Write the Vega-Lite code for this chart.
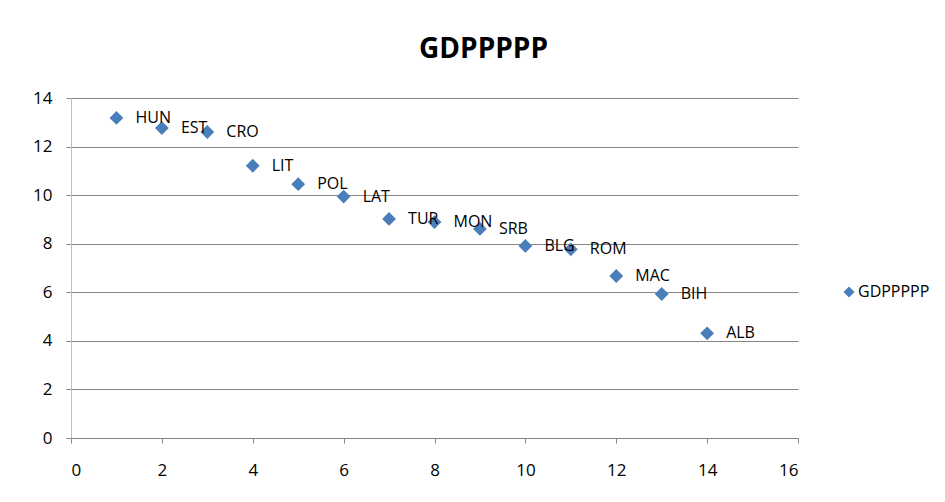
{
  "$schema": "https://vega.github.io/schema/vega-lite/v6.json",
  "width": 727,
  "height": 340,
  "autosize": "none",
  "padding": {"left": 71, "top": 98, "right": 147, "bottom": 64},
  "background": "white",
  "title": {
    "text": "GDPPPPP",
    "font": "Open Sans",
    "fontSize": 28,
    "fontWeight": "bold",
    "color": "#000000",
    "anchor": "middle",
    "frame": "group",
    "dx": 49,
    "baseline": "alphabetic",
    "offset": 3
  },
  "data": {
    "values": [
      {"x": 1, "y": 13.18, "country": "HUN", "series": "GDPPPPP"},
      {"x": 2, "y": 12.76, "country": "EST", "series": "GDPPPPP"},
      {"x": 3, "y": 12.6, "country": "CRO", "series": "GDPPPPP"},
      {"x": 4, "y": 11.21, "country": "LIT", "series": "GDPPPPP"},
      {"x": 5, "y": 10.45, "country": "POL", "series": "GDPPPPP"},
      {"x": 6, "y": 9.94, "country": "LAT", "series": "GDPPPPP"},
      {"x": 7, "y": 9.02, "country": "TUR", "series": "GDPPPPP"},
      {"x": 8, "y": 8.89, "country": "MON", "series": "GDPPPPP"},
      {"x": 9, "y": 8.61, "country": "SRB", "series": "GDPPPPP"},
      {"x": 10, "y": 7.91, "country": "BLG", "series": "GDPPPPP"},
      {"x": 11, "y": 7.77, "country": "ROM", "series": "GDPPPPP"},
      {"x": 12, "y": 6.67, "country": "MAC", "series": "GDPPPPP"},
      {"x": 13, "y": 5.93, "country": "BIH", "series": "GDPPPPP"},
      {"x": 14, "y": 4.31, "country": "ALB", "series": "GDPPPPP"}
    ]
  },
  "encoding": {
    "x": {
      "field": "x",
      "type": "quantitative",
      "scale": {"domain": [0, 16], "nice": false, "zero": true},
      "axis": {
        "title": null,
        "values": [0, 2, 4, 6, 8, 10, 12, 14, 16],
        "grid": false,
        "domainColor": "#868686",
        "tickColor": "#868686",
        "tickSize": 5,
        "labelPadding": 19,
        "labelFont": "Open Sans",
        "labelFontSize": 17,
        "labelColor": "#000000"
      }
    },
    "y": {
      "field": "y",
      "type": "quantitative",
      "scale": {"domain": [0, 14], "nice": false},
      "axis": {
        "title": null,
        "values": [0, 2, 4, 6, 8, 10, 12, 14],
        "grid": true,
        "gridColor": "#868686",
        "gridWidth": 1,
        "domainColor": "#BFBFBF",
        "tickColor": "#868686",
        "tickSize": 5,
        "labelPadding": 14,
        "labelFont": "Open Sans",
        "labelFontSize": 17,
        "labelColor": "#000000"
      }
    }
  },
  "layer": [
    {
      "mark": {"type": "point", "shape": "diamond", "filled": true, "size": 190, "opacity": 1},
      "encoding": {
        "color": {
          "field": "series",
          "type": "nominal",
          "scale": {"range": ["#4A7EBB"]},
          "legend": {
            "title": null,
            "orient": "none",
            "legendX": 770,
            "legendY": 186,
            "padding": 0,
            "symbolSize": 120,
            "symbolType": "diamond",
            "symbolOpacity": 1,
            "labelFont": "Open Sans",
            "labelFontSize": 16,
            "labelColor": "#000000",
            "labelOffset": 1
          }
        }
      }
    },
    {
      "mark": {
        "type": "text",
        "align": "left",
        "baseline": "middle",
        "dx": 19,
        "font": "Open Sans",
        "fontSize": 16,
        "color": "#000000"
      },
      "encoding": {"text": {"field": "country"}}
    }
  ],
  "config": {"view": {"stroke": null}}
}
